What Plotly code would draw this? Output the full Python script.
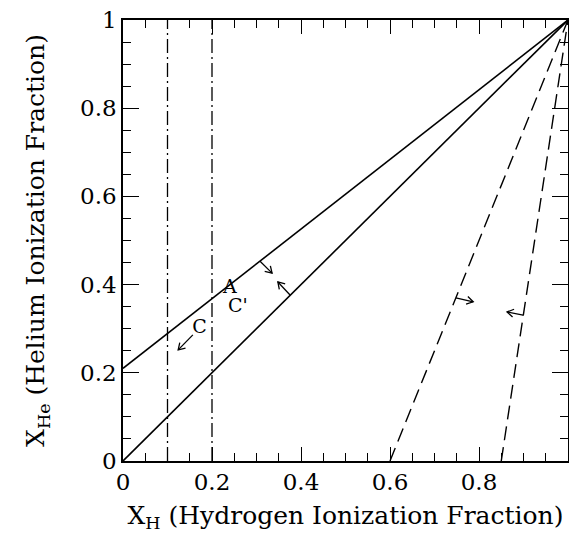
import plotly.graph_objects as go
import math

# solid lines (x endpoints, y endpoints)
solid_upper_x = [0.0, 1.0]
solid_upper_y = [0.21, 1.0]
solid_lower_x = [0.0, 1.0]
solid_lower_y = [0.0, 1.0]
# dash-dot verticals
vert_x = [0.1, 0.2]
# dashed lines from x-intercept to (1,1)
dashed_x0 = [0.6, 0.85]
# arrows: base (x,y) -> tip (x,y)
arrow_bx = [0.308, 0.376, 0.157, 0.748, 0.899]
arrow_by = [0.453, 0.376, 0.286, 0.370, 0.331]
arrow_tx = [0.335, 0.348, 0.124, 0.787, 0.863]
arrow_ty = [0.426, 0.406, 0.252, 0.361, 0.338]
# labels
label_text = ["A", "C'", "C"]
label_x = [0.240, 0.258, 0.172]
label_y = [0.392, 0.349, 0.302]
tick_vals = [0, 0.2, 0.4, 0.6, 0.8, 1]
tick_text = ["0", "0.2", "0.4", "0.6", "0.8", "1"]

FONT = "DejaVu Serif"
LW = 1.6
fig = go.Figure()

fig.add_trace(go.Scatter(x=solid_upper_x, y=solid_upper_y, mode="lines",
                         line=dict(color="black", width=LW)))
fig.add_trace(go.Scatter(x=solid_lower_x, y=solid_lower_y, mode="lines",
                         line=dict(color="black", width=LW)))
for vx in vert_x:
    fig.add_trace(go.Scatter(x=[vx, vx], y=[0, 1], mode="lines",
                             line=dict(color="black", width=1.3, dash="14px,4px,2px,4px")))
for x0 in dashed_x0:
    fig.add_trace(go.Scatter(x=[x0, 1.0], y=[0, 1.0], mode="lines",
                             line=dict(color="black", width=1.4, dash="14px,7px")))

# arrows with open V heads
hl = 0.017
ang = math.radians(32)
for bx, by, tx, ty in zip(arrow_bx, arrow_by, arrow_tx, arrow_ty):
    dx, dy = tx - bx, ty - by
    d = math.hypot(dx, dy)
    ux, uy = dx / d, dy / d
    hx = []
    hy = []
    for s in (1, -1):
        c, sn = math.cos(s * ang), math.sin(s * ang)
        rx = -(ux * c - uy * sn)
        ry = -(ux * sn + uy * c)
        hx.append(tx + hl * rx)
        hy.append(ty + hl * ry)
    xs = [bx, tx, None, hx[0], tx, hx[1]]
    ys = [by, ty, None, hy[0], ty, hy[1]]
    fig.add_trace(go.Scatter(x=xs, y=ys, mode="lines",
                             line=dict(color="black", width=1.3)))

fig.add_trace(go.Scatter(x=label_x, y=label_y, mode="text", text=label_text,
                         textfont=dict(family=FONT, size=19, color="black")))

axis_common = dict(
    range=[0, 1], showgrid=False, zeroline=False, showline=True,
    linecolor="black", linewidth=1.5, mirror="ticks",
    ticks="inside", tickcolor="black", tickwidth=1.3,
    tickvals=tick_vals, ticktext=tick_text, automargin=False,
    tickfont=dict(family=FONT, size=23, color="black"),
    minor=dict(dtick=0.05, tick0=0, ticks="inside", ticklen=8,
               tickcolor="black", tickwidth=1.2, showgrid=False),
)

fig.update_layout(
    width=569, height=538,
    margin=dict(l=123, r=1, t=20, b=77, autoexpand=False),
    paper_bgcolor="white", plot_bgcolor="white",
    showlegend=False,
    xaxis=dict(**axis_common, ticklen=14,
               title=dict(text="X<sub>H</sub> (Hydrogen Ionization Fraction)",
                          font=dict(family=FONT, size=25, color="black"), standoff=12)),
    yaxis=dict(**axis_common, ticklen=16,
               title=dict(text="X<sub>He</sub> (Helium Ionization Fraction)",
                          font=dict(family=FONT, size=25, color="black"), standoff=28)),
)

fig.write_html("out.html", config={"displayModeBar": False},
               post_script="document.body.style.margin='0px';document.body.style.overflow='hidden';")
